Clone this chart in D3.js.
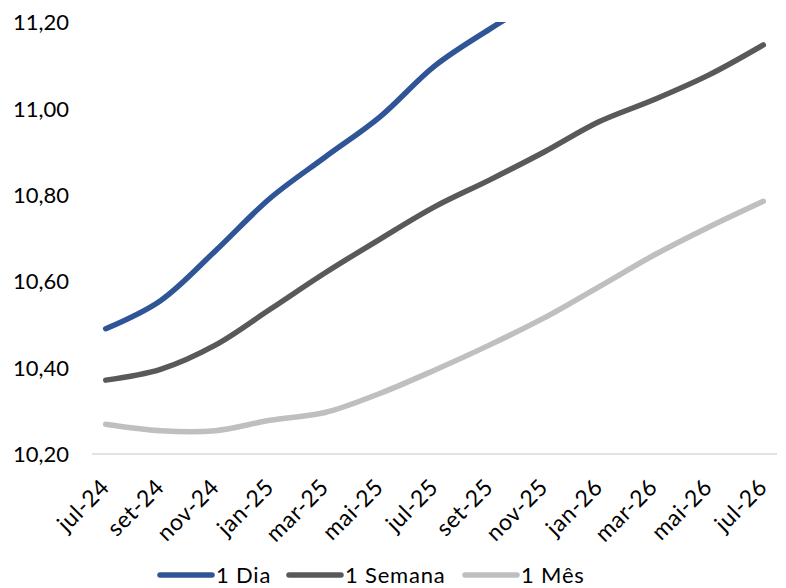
<!doctype html>
<html>
<head>
<meta charset="utf-8">
<title>Curvas</title>
<script src="https://cdn.jsdelivr.net/npm/d3@7"></script>
<style>
  body { margin: 0; background: #fff; }
  text { font-family: Lato, "Open Sans", sans-serif; fill: #000; }
</style>
</head>
<body>
<script>
// categories (every 2 months) and series
var labels = ["jul-24","set-24","nov-24","jan-25","mar-25","mai-25","jul-25","set-25","nov-25","jan-26","mar-26","mai-26","jul-26"];
var dia    = [10.490, 10.555, 10.670, 10.792, 10.887, 10.980, 11.098, 11.183, 11.260, 11.330, 11.390, 11.450, 11.510];
var semana = [10.371, 10.396, 10.452, 10.535, 10.619, 10.697, 10.772, 10.834, 10.899, 10.969, 11.020, 11.077, 11.147];
var mes    = [10.269, 10.254, 10.254, 10.278, 10.296, 10.340, 10.394, 10.452, 10.515, 10.587, 10.660, 10.725, 10.785];
var yTicks = [10.2, 10.4, 10.6, 10.8, 11.0, 11.2];

var series = [
  {name: "1 Dia", values: dia, color: "#2F5597"},
  {name: "1 Semana", values: semana, color: "#595959"},
  {name: "1 Mês", values: mes, color: "#BFBFBF"}
];

var w = 786, h = 588;
var pLeft = 92, pRight = 777, pTop = 22, pBottom = 454;

var svg = d3.select("body").append("svg").attr("width", w).attr("height", h);

var x = d3.scalePoint().domain(labels).range([pLeft, pRight]).padding(0.25);
var y = d3.scaleLinear().domain([10.2, 11.2]).range([pBottom, pTop]);

svg.append("defs").append("clipPath").attr("id", "plot")
  .append("rect").attr("x", pLeft).attr("y", pTop).attr("width", pRight - pLeft).attr("height", pBottom - pTop + 10);

// baseline axis
svg.append("line")
  .attr("x1", pLeft).attr("x2", pRight)
  .attr("y1", pBottom).attr("y2", pBottom)
  .attr("stroke", "#D9D9D9").attr("stroke-width", 1.5);

// y labels
var fmt = function(v){ return d3.format(".2f")(v).replace(".", ","); };
var yAxis = svg.append("g").attr("transform", "translate(" + (pLeft - 23) + ",0)")
  .call(d3.axisLeft(y).tickValues(yTicks).tickFormat(fmt).tickSize(0));
yAxis.select(".domain").remove();
yAxis.selectAll("text").attr("font-size", "22px").attr("x", 0).attr("dy", "0.35em");

// x labels
var xAxis = svg.append("g").attr("transform", "translate(0," + pBottom + ")")
  .call(d3.axisBottom(x).tickSize(0));
xAxis.select(".domain").remove();
xAxis.selectAll("text")
  .attr("font-size", "23px")
  .attr("letter-spacing", "0.6px")
  .attr("text-anchor", "end")
  .attr("x", 0).attr("y", 0).attr("dy", "0.35em")
  .attr("transform", "translate(-1,29) rotate(-45)");

// lines
var line = d3.line()
  .x(function(d, i){ return x(labels[i]); })
  .y(function(d){ return y(d); })
  .curve(d3.curveCatmullRom.alpha(0.5));

svg.append("g").attr("clip-path", "url(#plot)")
  .selectAll("path")
  .data(series.slice().reverse())
  .enter()
  .append("path")
  .attr("d", function(d){ return line(d.values); })
  .attr("fill", "none")
  .attr("stroke", function(d){ return d.color; })
  .attr("stroke-width", 5.5)
  .attr("stroke-linecap", "round")
  .attr("stroke-linejoin", "round");

// legend
var legX = [160, 289, 465];
var leg = svg.selectAll(".leg").data(series).enter().append("g")
  .attr("class", "leg")
  .attr("transform", function(d, i){ return "translate(" + legX[i] + ",575)"; });
leg.append("line")
  .attr("x1", 0).attr("x2", 52).attr("y1", 0).attr("y2", 0)
  .attr("stroke", function(d){ return d.color; })
  .attr("stroke-width", 5.5).attr("stroke-linecap", "round");
leg.append("text")
  .attr("x", 56).attr("y", 0).attr("dy", "0.35em")
  .attr("font-size", "22px")
  .attr("letter-spacing", "0.8px")
  .text(function(d){ return d.name; });
</script>
</body>
</html>
